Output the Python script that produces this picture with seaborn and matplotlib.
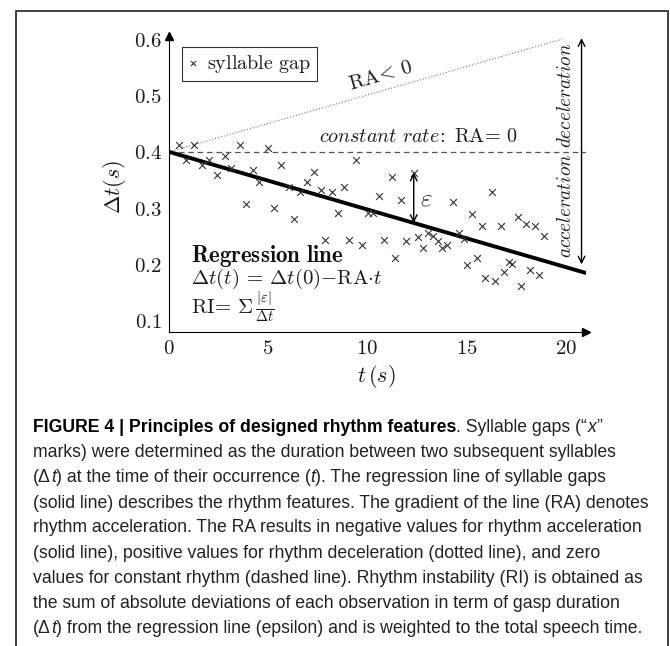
import numpy as np
import matplotlib.pyplot as plt
from matplotlib.patches import Rectangle
import seaborn as sns

# Syllable gaps: time of occurrence t (s) and gap duration dt (s)
gap_t = [0.50, 1.27, 0.88, 2.02, 1.64, 2.80, 2.41, 3.14, 3.57, 4.24, 4.56, 3.88, 4.97,
         5.27, 5.66, 6.05, 6.29, 6.61, 6.95, 7.32, 7.66, 8.20, 8.83, 8.50, 9.45, 7.88,
         9.09, 9.71, 10.01, 10.31, 10.59, 10.86, 11.22, 11.41, 11.72, 11.97, 12.34, 12.57,
         12.81, 13.08, 13.33, 13.58, 13.77, 14.02, 14.32, 14.60, 14.85, 15.29, 15.03,
         15.51, 15.80, 16.30, 16.72, 15.95, 16.43, 16.90, 17.14, 17.30, 17.60, 18.00,
         18.46, 18.90, 17.76, 18.21, 18.66]
gap_dt = [0.412, 0.412, 0.386, 0.386, 0.376, 0.392, 0.359, 0.371, 0.413, 0.368, 0.346,
          0.307, 0.406, 0.301, 0.377, 0.338, 0.281, 0.328, 0.346, 0.365, 0.332, 0.329,
          0.337, 0.292, 0.385, 0.244, 0.244, 0.235, 0.292, 0.292, 0.322, 0.244, 0.355,
          0.212, 0.314, 0.241, 0.363, 0.248, 0.229, 0.256, 0.250, 0.241, 0.229, 0.235,
          0.311, 0.256, 0.245, 0.289, 0.199, 0.212, 0.268, 0.328, 0.268, 0.175, 0.171,
          0.187, 0.205, 0.201, 0.284, 0.271, 0.268, 0.250, 0.161, 0.190, 0.181]

# Reference lines
line_t = [0, 21]
regression_dt = [0.4, 0.185]
constant_dt = [0.4, 0.4]
decel_t = [0, 19.8]
decel_dt = [0.4, 0.6]

# Annotation arrows
eps_t = 12.34
eps_range = [0.2736, 0.363]
range_t = 20.8
range_dt = [0.2, 0.602]

x_ticks = [0, 5, 10, 15, 20]
y_ticks = [0.1, 0.2, 0.3, 0.4, 0.5, 0.6]
y_tick_labels = ["0.1", "0.2", "0.3", "0.4", "0.5", "0.6"]

caption_lines = [
    [("FIGURE 4 | Principles of designed rhythm features", "bold", "normal"),
     (". Syllable gaps (\u201c", "normal", "normal"), ("x", "normal", "italic"),
     ("\u201d", "normal", "normal")],
    [("marks) were determined as the duration between two subsequent syllables", "normal", "normal")],
    [("(\u0394", "normal", "normal"), ("t", "normal", "italic"),
     (") at the time of their occurrence (", "normal", "normal"), ("t", "normal", "italic"),
     ("). The regression line of syllable gaps", "normal", "normal")],
    [("(solid line) describes the rhythm features. The gradient of the line (RA) denotes", "normal", "normal")],
    [("rhythm acceleration. The RA results in negative values for rhythm acceleration", "normal", "normal")],
    [("(solid line), positive values for rhythm deceleration (dotted line), and zero", "normal", "normal")],
    [("values for constant rhythm (dashed line). Rhythm instability (RI) is obtained as", "normal", "normal")],
    [("the sum of absolute deviations of each observation in term of gasp duration", "normal", "normal")],
    [("(\u0394", "normal", "normal"), ("t", "normal", "italic"),
     (") from the regression line (epsilon) and is weighted to the total speech time.", "normal", "normal")],
]

sns.set_theme(style="white")
plt.rcParams["mathtext.fontset"] = "cm"
plt.rcParams["font.family"] = ["DejaVu Serif"]

W, H = 670, 646
fig = plt.figure(figsize=(W / 100, H / 100), dpi=100)
ax = fig.add_axes([169 / W, 1 - 331.96 / H, 416.5 / W, 295.5 / H])
ax.set_xlim(0, 21)
ax.set_ylim(0.08, 0.605)

ink = "#1c1c1c"

# lines
sns.lineplot(x=line_t, y=constant_dt, color="#555555", linewidth=0.9,
             linestyle=(0, (4.5, 3)), ax=ax)
sns.lineplot(x=decel_t, y=decel_dt, color="#777777", linewidth=0.9,
             linestyle=(0, (0.8, 1.6)), ax=ax)
sns.lineplot(x=line_t, y=regression_dt, color="black", linewidth=2.8, ax=ax)

# syllable gaps
sns.scatterplot(x=gap_t, y=gap_dt, marker="x", s=24, color="#333333", linewidth=0.8,
                label=r"$\mathrm{syllable\ gap}$", ax=ax, zorder=3)

# axes styling
for side in ["top", "right"]:
    ax.spines[side].set_visible(False)
for side in ["left", "bottom"]:
    ax.spines[side].set_color("black")
    ax.spines[side].set_linewidth(0.8)
ax.plot(1, 0, ">", color="black", markersize=6, transform=ax.transAxes, clip_on=False)
ax.plot(0, 1, "^", color="black", markersize=6, transform=ax.transAxes, clip_on=False)

ax.set_xticks(x_ticks)
ax.set_xticklabels([f"${v}$" for v in x_ticks])
ax.set_yticks(y_ticks)
ax.set_yticklabels([f"${v}$" for v in y_tick_labels])
ax.tick_params(axis="both", direction="in", length=5, width=0.6, color="#999999",
               labelsize=15, labelcolor=ink, pad=5)

ax.set_xlabel(r"$t\,(s)$", fontsize=16, color=ink)
ax.set_ylabel(r"$\Delta t(s)$", fontsize=16, color=ink)
ax.xaxis.set_label_coords(0.497, -0.151)
ax.xaxis.label.set_va("center")
ax.yaxis.set_label_coords(-0.132, 0.49)
ax.yaxis.label.set_va("center")

leg = ax.legend(loc="upper left", bbox_to_anchor=(0.0305, 0.9653), borderaxespad=0,
                fontsize=14.5, fancybox=False, framealpha=1, edgecolor="#333333",
                handlelength=0.5, handletextpad=0.45, borderpad=0.3, markerscale=0.75)
leg.get_frame().set_linewidth(0.8)
for t in leg.get_texts():
    t.set_color(ink)

# annotations
arrow = dict(arrowstyle="<->", color="black", lw=1.0, shrinkA=0, shrinkB=0)
ax.annotate("", xy=(eps_t, eps_range[1]), xytext=(eps_t, eps_range[0]), arrowprops=arrow)
ax.annotate("", xy=(range_t, range_dt[1]), xytext=(range_t, range_dt[0]), arrowprops=arrow)
ax.text(12.98, 0.317, r"$\varepsilon$", fontsize=18, ha="center", va="center", color=ink)

p1 = ax.transData.transform((decel_t[0], decel_dt[0]))
p2 = ax.transData.transform((decel_t[1], decel_dt[1]))
angle = np.degrees(np.arctan2(p2[1] - p1[1], p2[0] - p1[0]))
ax.text(10.69, 0.535, r"$\mathrm{RA}\!<\,0$", fontsize=15, rotation=angle,
        rotation_mode="anchor", ha="center", va="center", color=ink)
ax.text(7.58, 0.427, r"$\mathit{constant\ rate}\!:\ \mathrm{RA}\!=\,0$", fontsize=14.5,
        ha="left", va="center", color=ink)
ax.text(20.02, 0.501, r"$\mathit{deceleration}$", fontsize=13.8, rotation=90,
        ha="center", va="center", color=ink)
ax.text(20.02, 0.304, r"$\mathit{acceleration}$", fontsize=13.8, rotation=90,
        ha="center", va="center", color=ink)

ax.text(1.12, 0.215, r"$\mathbf{Regression\ line}$", fontsize=16.5, ha="left", va="center", color="#111111")
ax.text(1.12, 0.1745, r"$\Delta t(t)\,=\,\Delta t(0){-}\mathrm{RA}{\cdot}t$", fontsize=15,
        ha="left", va="center", color=ink)
ax.text(1.12, 0.124, r"$\mathrm{RI}\!=\,\Sigma\,\frac{|\varepsilon|}{\Delta t}$", fontsize=15,
        ha="left", va="center", color=ink)

# figure border
fig.patches.append(Rectangle((16 / W, -0.02), (668 - 16) / W, 1.02 - 11 / H,
                             transform=fig.transFigure, fill=False,
                             edgecolor="#333333", linewidth=1.3))

# caption, font size fitted so that the widest line spans the text block
cap_font = "Liberation Sans"
renderer = fig.canvas.get_renderer()
probe = fig.text(0, 0, caption_lines[3][0][0], fontsize=10, family=cap_font)
fit = probe.get_window_extent(renderer).width
probe.remove()
cap_size = 10 * 619 / fit

cap_y = [426.7, 452.3, 477.3, 502.7, 527.3, 552.7, 577.7, 603.3, 628.3]
for y, pieces in zip(cap_y, caption_lines):
    prev = None
    for text, weight, style in pieces:
        kw = dict(fontsize=cap_size, family=cap_font, fontweight=weight, fontstyle=style,
                  color="#000000" if weight == "bold" else "#222222")
        if prev is None:
            prev = fig.text(33 / W, 1 - (y + 5) / H, text, ha="left", va="baseline", **kw)
        else:
            prev = ax.annotate(text, xy=(1, 0), xycoords=prev, ha="left", va="bottom", **kw)

plt.savefig("out.png", dpi=100)
